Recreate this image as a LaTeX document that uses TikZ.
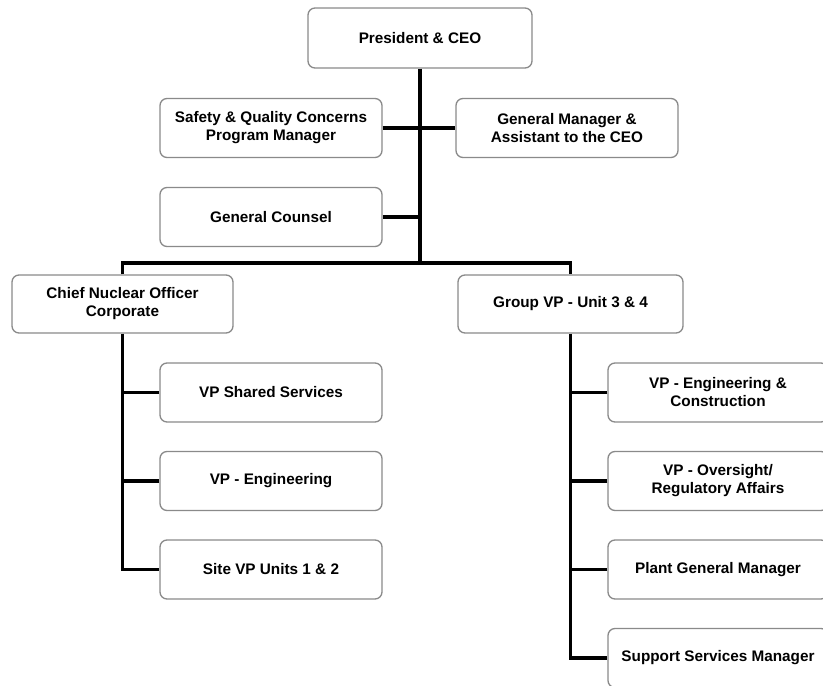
\documentclass[tikz,border=0pt]{standalone}
\usepackage{fontspec}
\setmainfont{Liberation Sans}
\usepackage{tikz}
\usetikzlibrary{positioning}
\definecolor{boxline}{HTML}{8A8A8A}
\tikzstyle{orgbox} = [rectangle, rounded corners=7pt, draw=boxline, line width=1.3pt, fill=white, text centered, align=center, font=\fontsize{15.3}{18}\selectfont\bfseries, minimum width=222pt, minimum height=59pt, inner sep=0pt]
\tikzstyle{link}   = [line width=3.6pt, black]

\begin{document}
\begin{tikzpicture}[x=1pt, y=-1pt, node distance=88.5pt]
            \useasboundingbox (0,0) rectangle (823,686);
            \clip (0,0) rectangle (823,686);
            %Create nodes for top levels
            \node (ceo)     [orgbox, minimum width=224pt, minimum height=60pt] at (420,38) {President \& CEO};
            \node (safety)  [orgbox] at (271,128) {Safety \& Quality Concerns\\Program Manager};
            \node (gm)      [orgbox] at (567,128) {General Manager \&\\Assistant to the CEO};
            \node (counsel) [orgbox] at (271,217) {General Counsel};
            \node (cno)     [orgbox, minimum width=221pt, minimum height=58pt] at (122.5,304) {Chief Nuclear Officer\\Corporate};
            \node (gvp)     [orgbox, minimum width=225pt, minimum height=58pt] at (570.5,304) {Group VP - Unit 3 \& 4};
            %Create nodes under chief nuclear officer
            \node (vp_shared) [orgbox, below of = cno, xshift=148.5pt] {VP Shared Services};
            \node (vp_eng)    [orgbox, below of = vp_shared]           {VP - Engineering};
            \node (site_vp)   [orgbox, below of = vp_eng]              {Site VP Units 1 \& 2};
            %Create nodes under group VP
            \node (vp_ec)     [orgbox, minimum width=220pt, below of = gvp, xshift=147.5pt] {VP - Engineering \&\\Construction};
            \node (vp_ov)     [orgbox, minimum width=220pt, below of = vp_ec]    {VP - Oversight/\\Regulatory Affairs};
            \node (plant_gm)  [orgbox, minimum width=220pt, below of = vp_ov]    {Plant General Manager};
            \node (support)   [orgbox, minimum width=220pt, below of = plant_gm] {Support Services Manager};
            \coordinate (bar_mid) at (ceo.south |- 0,263);
            %Connect top levels
            \draw [link] (ceo.south)     -- (bar_mid);
            \draw [link] (safety.east)   -- (gm.west);
            \draw [link] (counsel.east)  -- (counsel.east -| ceo.south);
            \draw [link] (cno.north)     |- (bar_mid) -| (gvp.north);
            %Connect left branch
            \draw [link] (cno.south)       |- (site_vp.west);
            \draw [link] (vp_shared.west)  -- (vp_shared.west -| cno.south);
            \draw [link] (vp_eng.west)     -- (vp_eng.west -| cno.south);
            %Connect right branch
            \draw [link] (gvp.south)       |- (support.west);
            \draw [link] (vp_ec.west)      -- (vp_ec.west -| gvp.south);
            \draw [link] (vp_ov.west)      -- (vp_ov.west -| gvp.south);
            \draw [link] (plant_gm.west)   -- (plant_gm.west -| gvp.south);
        \end{tikzpicture}
\end{document}
